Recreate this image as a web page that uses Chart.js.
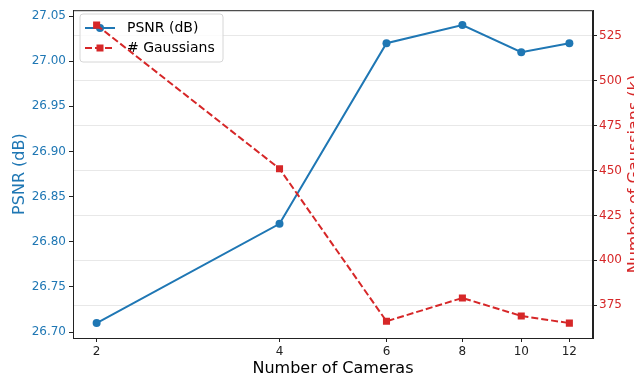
<!DOCTYPE html>
<html>
<head>
<meta charset="utf-8">
<script src="https://cdn.jsdelivr.net/npm/chart.js@4"></script>
<style>
  body { margin: 0; background: #fff; }
  #wrap { width: 634px; height: 378px; }
</style>
</head>
<body>
<div id="wrap"><canvas id="chart" width="634" height="378"></canvas></div>
<script>
const cameras = [2, 4, 6, 8, 10, 12];
const psnr = [26.71, 26.82, 27.02, 27.04, 27.01, 27.02];
const gaussians = [531, 451, 366, 379, 369, 365];

const cameraTicks = [2, 4, 6, 8, 10, 12];
const psnrTicks = [26.70, 26.75, 26.80, 26.85, 26.90, 26.95, 27.00, 27.05];
const gaussTicks = [375, 400, 425, 450, 475, 500, 525];

const BLUE = '#1f77b4';
const RED = '#d62728';
const FONT = '"DejaVu Sans", sans-serif';

// matplotlib style 5% margins
function pad(min, max) {
  const m = (max - min) * 0.05;
  return [min - m, max + m];
}
const [psnrMin, psnrMax] = pad(Math.min(...psnr), Math.max(...psnr));
const [gMin, gMax] = pad(Math.min(...gaussians), Math.max(...gaussians));
const lMin = Math.log(2), lMax = Math.log(12), lm = (lMax - lMin) * 0.05;
const xMin = Math.exp(lMin - lm), xMax = Math.exp(lMax + lm);

function setTicks(values) {
  return scale => { scale.ticks = values.map(v => ({ value: v })); };
}

// frame, axis titles and legend
const decor = {
  id: 'decor',
  afterDatasetDraw(chart, args) {
    if (args.index !== 0) return;
    // legend sits above the PSNR line but under the Gaussians line
    const ctx = chart.ctx;
    ctx.save();
    const x = 80, y = 14, w = 143, h = 48, r = 3;
    ctx.beginPath();
    ctx.roundRect(x, y, w, h, r);
    ctx.fillStyle = 'rgba(255,255,255,0.8)';
    ctx.fill();
    ctx.strokeStyle = '#d6d6d6';
    ctx.lineWidth = 1;
    ctx.stroke();

    ctx.lineWidth = 2;
    // PSNR row
    ctx.strokeStyle = BLUE;
    ctx.beginPath(); ctx.moveTo(85, 28); ctx.lineTo(115, 28); ctx.stroke();
    ctx.fillStyle = BLUE;
    ctx.beginPath(); ctx.arc(100, 28, 4, 0, Math.PI * 2); ctx.fill();
    // Gaussians row
    ctx.strokeStyle = RED;
    ctx.setLineDash([7, 3]);
    ctx.beginPath(); ctx.moveTo(85, 48); ctx.lineTo(115, 48); ctx.stroke();
    ctx.setLineDash([]);
    ctx.fillStyle = RED;
    ctx.fillRect(96.5, 44.5, 7, 7);

    ctx.fillStyle = '#000';
    ctx.font = '14px ' + FONT;
    ctx.textBaseline = 'middle';
    ctx.fillText('PSNR (dB)', 127, 28);
    ctx.fillText('# Gaussians', 127, 48);
    ctx.restore();
  },
  afterDraw(chart) {
    const { ctx, chartArea: a } = chart;
    ctx.save();
    ctx.strokeStyle = '#222';
    ctx.lineWidth = 1;
    ctx.strokeRect(a.left + 0.5, a.top + 0.5, a.right - a.left - 1, a.bottom - a.top);

    ctx.font = '16px ' + FONT;
    ctx.textAlign = 'center';
    ctx.textBaseline = 'alphabetic';
    ctx.fillStyle = '#000';
    ctx.fillText('Number of Cameras', 333, 373);

    const mid = (a.top + a.bottom) / 2;
    ctx.fillStyle = BLUE;
    ctx.translate(24, mid);
    ctx.rotate(-Math.PI / 2);
    ctx.fillText('PSNR (dB)', 0, 0);
    ctx.setTransform(1, 0, 0, 1, 0, 0);

    ctx.fillStyle = RED;
    ctx.translate(639, mid);
    ctx.rotate(-Math.PI / 2);
    ctx.fillText('Number of Gaussians (k)', 0, 0);
    ctx.restore();
  }
};

new Chart(document.getElementById('chart'), {
  type: 'line',
  data: {
    datasets: [
      {
        label: 'PSNR (dB)',
        data: cameras.map((c, i) => ({ x: c, y: psnr[i] })),
        yAxisID: 'y',
        borderColor: BLUE,
        backgroundColor: BLUE,
        borderWidth: 2,
        pointRadius: 4,
        pointHoverRadius: 4,
        pointBorderWidth: 0,
        order: 2
      },
      {
        label: '# Gaussians',
        data: cameras.map((c, i) => ({ x: c, y: gaussians[i] })),
        yAxisID: 'y2',
        borderColor: RED,
        backgroundColor: RED,
        borderWidth: 2,
        borderDash: [7, 3],
        pointStyle: 'rect',
        pointRadius: 5,
        pointHoverRadius: 5,
        pointBorderWidth: 0,
        order: 1
      }
    ]
  },
  options: {
    responsive: false,
    animation: false,
    layout: { padding: { top: 7, left: 0, right: 0, bottom: 0 } },
    plugins: {
      legend: { display: false },
      tooltip: { enabled: false }
    },
    scales: {
      x: {
        type: 'logarithmic',
        min: xMin,
        max: xMax,
        afterBuildTicks: setTicks(cameraTicks),
        afterFit: s => { s.height = 40; },
        border: { display: true, color: '#222', width: 1 },
        grid: { drawOnChartArea: false, drawTicks: true, tickLength: 4, tickColor: '#222' },
        ticks: {
          autoSkip: false,
          maxRotation: 0,
          padding: 3,
          color: '#222',
          font: { family: FONT, size: 12 },
          callback: v => String(v)
        }
      },
      y: {
        position: 'left',
        min: psnrMin,
        max: psnrMax,
        afterBuildTicks: setTicks(psnrTicks),
        afterFit: s => { s.width = 73; },
        border: { display: true, color: '#222', width: 1 },
        grid: { drawOnChartArea: false, drawTicks: true, tickLength: 4, tickColor: '#222' },
        ticks: {
          padding: 3,
          color: BLUE,
          font: { family: FONT, size: 12 },
          callback: v => v.toFixed(2)
        }
      },
      y2: {
        position: 'right',
        min: gMin,
        max: gMax,
        afterBuildTicks: setTicks(gaussTicks),
        afterFit: s => { s.width = 41; },
        border: { display: true, color: '#222', width: 1 },
        grid: { drawOnChartArea: true, color: '#e8e8e8', lineWidth: 1, drawTicks: true, tickLength: 4, tickColor: '#222' },
        ticks: {
          padding: 2,
          color: RED,
          font: { family: FONT, size: 12 },
          callback: v => String(v)
        }
      }
    }
  },
  plugins: [decor]
});
</script>
</body>
</html>
